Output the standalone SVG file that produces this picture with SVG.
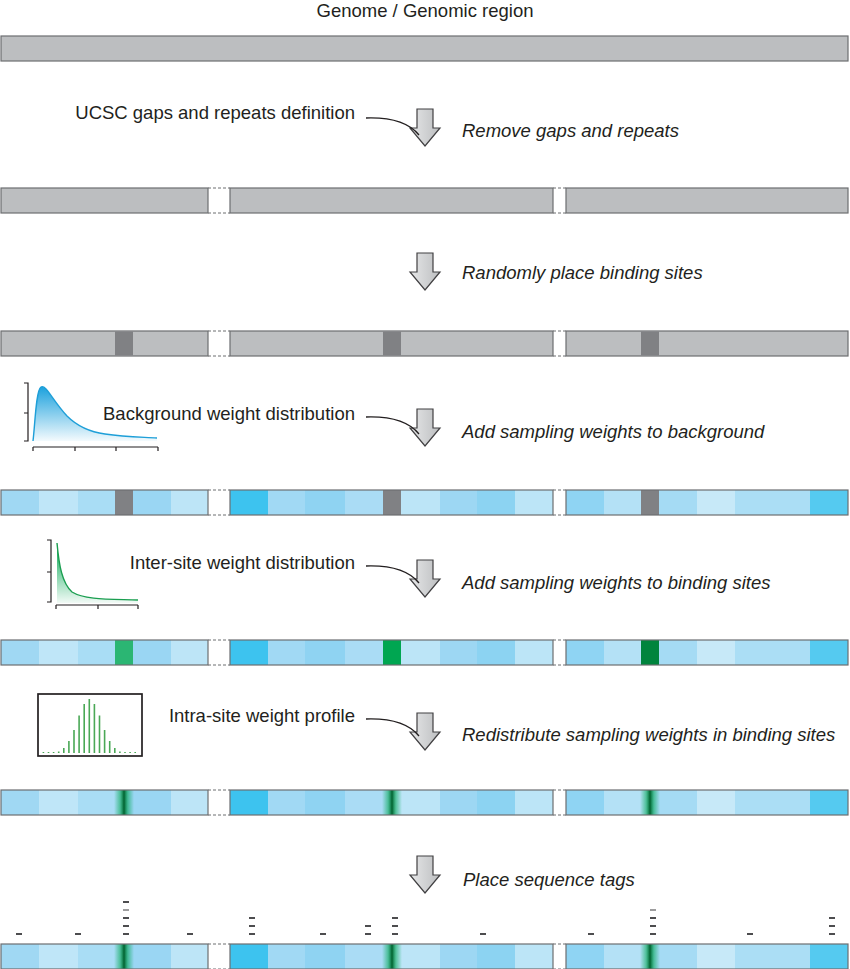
<svg xmlns="http://www.w3.org/2000/svg" xmlns:xlink="http://www.w3.org/1999/xlink" width="850" height="969" viewBox="0 0 850 969">
<style>
text{font-family:"Liberation Sans",Arial,Helvetica,sans-serif;font-size:18.5px;fill:#231f20}
.it{font-style:italic}
.seg{fill:none;stroke:#6d6e71;stroke-width:1.2}
.gseg{fill:#bcbec0;stroke:#6d6e71;stroke-width:1.2}
.gap{fill:none;stroke:#6d6e71;stroke-width:1;stroke-dasharray:3 2}
.arrow{fill:url(#ag);stroke:#414042;stroke-width:1.2}
.lead{fill:none;stroke:#231f20;stroke-width:1.3}
.ax{fill:none;stroke:#231f20;stroke-width:1.2}
.tag{stroke:#4d4d4f;stroke-width:2}
.thin{stroke-width:1.1}
.bar{stroke:#4aa856;stroke-width:1.6}
.site{fill:#808184}
</style>
<defs>
<linearGradient id="ag" x1="0" y1="0" x2="1" y2="0">
<stop offset="0" stop-color="#e6e7e8"/><stop offset="1" stop-color="#bcbec0"/>
</linearGradient>
<linearGradient id="bluefill" x1="0" y1="0" x2="0" y2="1">
<stop offset="0" stop-color="#1ba1dd"/><stop offset="1" stop-color="#1ba1dd" stop-opacity="0.05"/>
</linearGradient>
<linearGradient id="greenfill" x1="0" y1="0" x2="0" y2="1">
<stop offset="0" stop-color="#00a651"/><stop offset="1" stop-color="#00a651" stop-opacity="0.05"/>
</linearGradient>
<linearGradient id="gl" x1="0" y1="0" x2="1" y2="0">
<stop offset="0" stop-color="#00a651" stop-opacity="0"/>
<stop offset="0.3" stop-color="#00a651" stop-opacity="0.55"/>
<stop offset="0.5" stop-color="#00612f"/>
<stop offset="0.7" stop-color="#00a651" stop-opacity="0.55"/>
<stop offset="1" stop-color="#00a651" stop-opacity="0"/>
</linearGradient>
<path id="arr" d="M417,0 L433,0 L433,19 L440,19 L425,37 L410,19 L417,19 Z"/>
<g id="gaps">
<path class="gap" d="M208,0 H230 M208,25 H230 M553,0 H566 M553,25 H566"/>
</g>
<g id="grayrow">
<rect class="gseg" x="1" y="0" width="207" height="25"/>
<rect class="gseg" x="230" y="0" width="323" height="25"/>
<rect class="gseg" x="566" y="0" width="282" height="25"/>
<use xlink:href="#gaps"/>
</g>
<g id="bluebg">
<rect x="1" y="0" width="38" height="25" fill="#a0d8f3"/>
<rect x="39" y="0" width="39" height="25" fill="#bfe6f8"/>
<rect x="78" y="0" width="46" height="25" fill="#a9ddf5"/>
<rect x="124" y="0" width="47" height="25" fill="#9ad6f3"/>
<rect x="171" y="0" width="37" height="25" fill="#bde5f7"/>
<rect x="230" y="0" width="38" height="25" fill="#3dc3ef"/>
<rect x="268" y="0" width="37" height="25" fill="#a1d9f4"/>
<rect x="305" y="0" width="40" height="25" fill="#8fd3f2"/>
<rect x="345" y="0" width="47" height="25" fill="#aadcf5"/>
<rect x="392" y="0" width="48" height="25" fill="#bce5f7"/>
<rect x="440" y="0" width="37" height="25" fill="#9dd7f3"/>
<rect x="477" y="0" width="38" height="25" fill="#8cd3f2"/>
<rect x="515" y="0" width="38" height="25" fill="#bce5f7"/>
<rect x="566" y="0" width="38" height="25" fill="#8fd4f3"/>
<rect x="604" y="0" width="46" height="25" fill="#b4e1f6"/>
<rect x="650" y="0" width="47" height="25" fill="#a5dbf4"/>
<rect x="697" y="0" width="38" height="25" fill="#c7e9f8"/>
<rect x="735" y="0" width="75" height="25" fill="#abdef5"/>
<rect x="810" y="0" width="38" height="25" fill="#55caf0"/>
</g>
<g id="outline">
<rect class="seg" x="1" y="0" width="207" height="25"/>
<rect class="seg" x="230" y="0" width="323" height="25"/>
<rect class="seg" x="566" y="0" width="282" height="25"/>
<use xlink:href="#gaps"/>
</g>
<g id="glines">
<rect x="114" y="0" width="20" height="25" fill="url(#gl)"/>
<rect x="382" y="0" width="20" height="25" fill="url(#gl)"/>
<rect x="640" y="0" width="20" height="25" fill="url(#gl)"/>
</g>
</defs>

<g id="title"><text x="425" y="17" text-anchor="middle">Genome / Genomic region</text></g>

<g id="genome-bar"><rect class="gseg" x="1" y="36" width="847" height="25"/></g>

<g id="row-filtered"><use xlink:href="#grayrow" y="188"/></g>

<g id="row-sites">
<use xlink:href="#grayrow" y="331"/>
<rect class="site" x="115" y="331.6" width="18" height="23.8"/>
<rect class="site" x="383" y="331.6" width="18" height="23.8"/>
<rect class="site" x="641" y="331.6" width="18" height="23.8"/>
</g>

<g id="row-background">
<use xlink:href="#bluebg" y="490"/>
<rect class="site" x="115" y="490" width="18" height="25"/>
<rect class="site" x="383" y="490" width="18" height="25"/>
<rect class="site" x="641" y="490" width="18" height="25"/>
<use xlink:href="#outline" y="490"/>
</g>

<g id="row-intersite">
<use xlink:href="#bluebg" y="640"/>
<rect x="115" y="640" width="18" height="25" fill="#2bb673"/>
<rect x="383" y="640" width="18" height="25" fill="#00a651"/>
<rect x="641" y="640" width="18" height="25" fill="#00843d"/>
<use xlink:href="#outline" y="640"/>
</g>

<g id="row-intrasite">
<use xlink:href="#bluebg" y="790"/>
<use xlink:href="#glines" y="790"/>
<use xlink:href="#outline" y="790"/>
</g>

<g id="row-tags">
<use xlink:href="#bluebg" y="944"/>
<use xlink:href="#glines" y="944"/>
<use xlink:href="#outline" y="944"/>
<g id="tags">
<line class="tag" x1="16" y1="934" x2="22" y2="934"/>
<line class="tag" x1="75" y1="934" x2="81" y2="934"/>
<line class="tag" x1="123" y1="934" x2="129" y2="934"/>
<line class="tag" x1="123" y1="926" x2="129" y2="926"/>
<line class="tag" x1="123" y1="918" x2="129" y2="918"/>
<line class="tag thin" x1="123" y1="910" x2="129" y2="910"/>
<line class="tag" x1="123" y1="902" x2="129" y2="902"/>
<line class="tag" x1="187" y1="934" x2="193" y2="934"/>
<line class="tag" x1="249" y1="934" x2="255" y2="934"/>
<line class="tag" x1="249" y1="926" x2="255" y2="926"/>
<line class="tag" x1="249" y1="918" x2="255" y2="918"/>
<line class="tag" x1="320" y1="934" x2="326" y2="934"/>
<line class="tag" x1="365" y1="934" x2="371" y2="934"/>
<line class="tag" x1="365" y1="926" x2="371" y2="926"/>
<line class="tag" x1="392" y1="934" x2="398" y2="934"/>
<line class="tag" x1="392" y1="926" x2="398" y2="926"/>
<line class="tag" x1="392" y1="918" x2="398" y2="918"/>
<line class="tag" x1="480" y1="934" x2="486" y2="934"/>
<line class="tag" x1="588" y1="934" x2="594" y2="934"/>
<line class="tag" x1="650" y1="934" x2="656" y2="934"/>
<line class="tag" x1="650" y1="926" x2="656" y2="926"/>
<line class="tag" x1="650" y1="918" x2="656" y2="918"/>
<line class="tag thin" x1="650" y1="910" x2="656" y2="910"/>
<line class="tag" x1="747" y1="934" x2="753" y2="934"/>
<line class="tag" x1="829" y1="934" x2="835" y2="934"/>
<line class="tag" x1="829" y1="926" x2="835" y2="926"/>
<line class="tag" x1="829" y1="918" x2="835" y2="918"/>
</g>
</g>

<g id="step-remove">
<use xlink:href="#arr" y="109" class="arrow"/>
<text x="462" y="137" class="it">Remove gaps and repeats</text>
</g>
<g id="src-ucsc"><text x="355" y="119" text-anchor="end">UCSC gaps and repeats definition</text></g>

<g id="step-place">
<use xlink:href="#arr" y="253" class="arrow"/>
<text x="462" y="279" class="it">Randomly place binding sites</text>
</g>

<g id="step-background">
<use xlink:href="#arr" y="409" class="arrow"/>
<text x="462" y="438" class="it">Add sampling weights to background</text>
</g>
<g id="src-background">
<text x="355" y="420" text-anchor="end">Background weight distribution</text>
<path d="M33,441 C35,425 36,390 41,387 C46,384 52,400 67,416 C78,427 90,432 105,434 C125,437 140,437 157,438 L157,441 Z" fill="url(#bluefill)"/>
<path d="M33,441 C35,425 36,390 41,387 C46,384 52,400 67,416 C78,427 90,432 105,434 C125,437 140,437 157,438" fill="none" stroke="#1e9fd8" stroke-width="1.4"/>
<path class="ax" d="M24,383 H28 V441 H24 M24,413 H28"/>
<path class="ax" d="M33,447 H158 M33,447 V451 M75,447 V451 M116,447 V451 M158,447 V451"/>
</g>

<g id="step-intersite">
<use xlink:href="#arr" y="560" class="arrow"/>
<text x="462" y="589" class="it">Add sampling weights to binding sites</text>
</g>
<g id="src-intersite">
<text x="355" y="569" text-anchor="end">Inter-site weight distribution</text>
<path d="M57,543 C59,565 62,583 72,592 C85,600 110,599 138,600 L138,603 L57,603 Z" fill="url(#greenfill)"/>
<path d="M57,543 C59,565 62,583 72,592 C85,600 110,599 138,600" fill="none" stroke="#1a9e50" stroke-width="1.4"/>
<path class="ax" d="M47,540 H51 V602 H47 M47,572 H51"/>
<path class="ax" d="M56,605 H138 M56,605 V609 M98,605 V609 M138,605 V609"/>
</g>

<g id="step-intrasite">
<use xlink:href="#arr" y="713" class="arrow"/>
<text x="462" y="741" class="it">Redistribute sampling weights in binding sites</text>
</g>
<g id="src-intrasite">
<text x="355" y="722" text-anchor="end">Intra-site weight profile</text>
<rect x="38" y="694" width="104" height="62" fill="none" stroke="#231f20" stroke-width="1.7"/>
<g class="bar">
<line x1="43.4" y1="753" x2="43.4" y2="752"/>
<line x1="48.5" y1="753" x2="48.5" y2="752"/>
<line x1="53.6" y1="753" x2="53.6" y2="752"/>
<line x1="58.7" y1="753" x2="58.7" y2="751.5"/>
<line x1="63.8" y1="753" x2="63.8" y2="748"/>
<line x1="68.9" y1="753" x2="68.9" y2="741"/>
<line x1="74" y1="753" x2="74" y2="730"/>
<line x1="79.1" y1="753" x2="79.1" y2="715.5"/>
<line x1="84.2" y1="753" x2="84.2" y2="704"/>
<line x1="89.3" y1="753" x2="89.3" y2="699"/>
<line x1="94.4" y1="753" x2="94.4" y2="704"/>
<line x1="99.5" y1="753" x2="99.5" y2="715.5"/>
<line x1="104.6" y1="753" x2="104.6" y2="730"/>
<line x1="109.7" y1="753" x2="109.7" y2="741"/>
<line x1="114.8" y1="753" x2="114.8" y2="748"/>
<line x1="119.9" y1="753" x2="119.9" y2="751.5"/>
<line x1="125" y1="753" x2="125" y2="752"/>
<line x1="130.1" y1="753" x2="130.1" y2="752"/>
<line x1="135.2" y1="753" x2="135.2" y2="752"/>
</g>
</g>

<g id="step-tags">
<use xlink:href="#arr" y="856" class="arrow"/>
<text x="463" y="886" class="it">Place sequence tags</text>
</g>

<g id="connectors">
<path class="lead" d="M366,118 C395,117 410,124 419,135"/>
<path class="lead" d="M366,417 C395,416 410,423 419,434"/>
<path class="lead" d="M366,566 C395,565 410,572 419,583"/>
<path class="lead" d="M366,719 C395,718 410,725 419,736"/>
</g>
</svg>
